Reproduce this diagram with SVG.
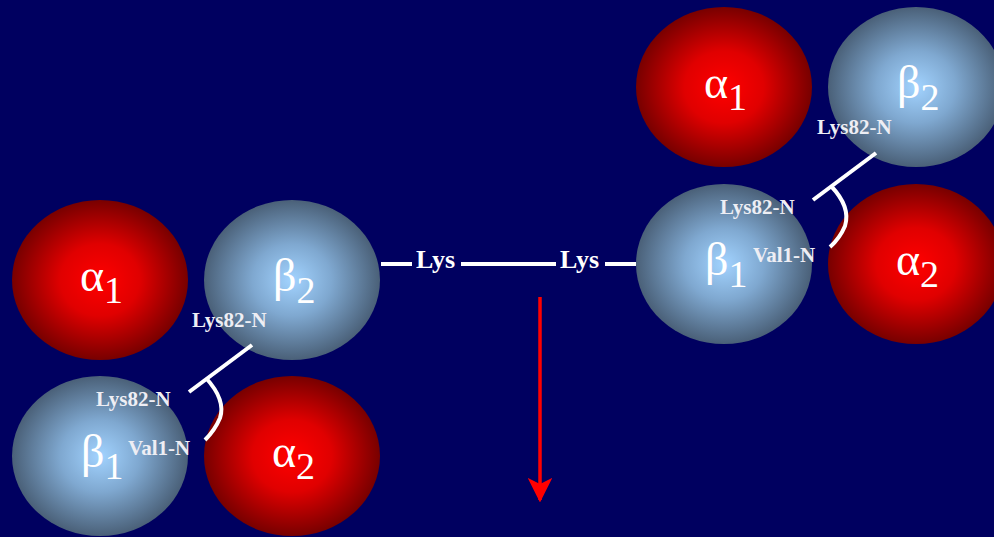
<svg xmlns="http://www.w3.org/2000/svg" width="994" height="537" viewBox="0 0 994 537">
<defs>
<radialGradient id="gr" cx="50%" cy="50%" r="50%">
<stop offset="0" stop-color="#ff0000"/><stop offset="0.45" stop-color="#e00000"/><stop offset="1" stop-color="#780000"/>
</radialGradient>
<radialGradient id="gb" cx="50%" cy="50%" r="50%">
<stop offset="0" stop-color="#a2d3ff"/><stop offset="0.45" stop-color="#7fa8d0"/><stop offset="1" stop-color="#4a6078"/>
</radialGradient>
<marker id="ah" viewBox="0 0 10 10" refX="9" refY="5" markerWidth="7" markerHeight="7" markerUnits="strokeWidth" orient="auto">
<path d="M0,0 L10,5 L0,10 L2.5,5 Z" fill="#ff0000"/>
</marker>
<style>
.r{fill:url(#gr)}
.b{fill:url(#gb)}
.g{font-family:"Liberation Serif","DejaVu Serif",serif;fill:#fff;font-size:46px}
.s{font-size:38px}
.l{font-family:"Liberation Serif","DejaVu Serif",serif;font-weight:bold;fill:#eeeef4;font-size:21px}
.k{font-family:"Liberation Serif","DejaVu Serif",serif;font-weight:bold;fill:#fff;font-size:26px}
.w{stroke:#fff;stroke-width:4;fill:none}
</style>
</defs>
<rect width="994" height="537" fill="#000060"/>
<g id="left-a1"><ellipse class="r" cx="100" cy="280" rx="88" ry="80"/><text class="g" x="80" y="291">α<tspan class="s" dy="12">1</tspan></text></g>
<g id="left-b2"><ellipse class="b" cx="292" cy="280" rx="88" ry="80"/><text class="g" x="273" y="291">β<tspan class="s" dy="12">2</tspan></text></g>
<g id="left-b1"><ellipse class="b" cx="100" cy="456" rx="88" ry="80"/><text class="g" x="81" y="467">β<tspan class="s" dy="12">1</tspan></text></g>
<g id="left-a2"><ellipse class="r" cx="292" cy="456" rx="88" ry="80"/><text class="g" x="272" y="467">α<tspan class="s" dy="12">2</tspan></text></g>
<g id="right-a1"><ellipse class="r" cx="724" cy="87" rx="88" ry="80"/><text class="g" x="704" y="98">α<tspan class="s" dy="12">1</tspan></text></g>
<g id="right-b2"><ellipse class="b" cx="916" cy="87" rx="88" ry="80"/><text class="g" x="897" y="98">β<tspan class="s" dy="12">2</tspan></text></g>
<g id="right-b1"><ellipse class="b" cx="724" cy="264" rx="88" ry="80"/><text class="g" x="705" y="275">β<tspan class="s" dy="12">1</tspan></text></g>
<g id="right-a2"><ellipse class="r" cx="916" cy="264" rx="88" ry="80"/><text class="g" x="896" y="275">α<tspan class="s" dy="12">2</tspan></text></g>
<g id="labels">
<text class="l" x="192" y="327">Lys82-N</text>
<text class="l" x="96" y="406">Lys82-N</text>
<text class="l" x="128" y="455">Val1-N</text>
<text class="l" x="817" y="134">Lys82-N</text>
<text class="l" x="720" y="214">Lys82-N</text>
<text class="l" x="753" y="262">Val1-N</text>
<text class="k" x="416" y="268">Lys</text>
<text class="k" x="560" y="268">Lys</text>
</g>
<g id="connectors">
<line class="w" x1="252" y1="345" x2="189" y2="392"/>
<path class="w" d="M206,378 Q226,400 220,418 Q215,430 205,440"/>
<line class="w" x1="876" y1="153" x2="813" y2="200"/>
<path class="w" d="M831,186 Q851,207 845,226 Q840,238 830,247"/>
<line class="w" x1="381" y1="264" x2="412" y2="264"/>
<line class="w" x1="461" y1="264" x2="556" y2="264"/>
<line class="w" x1="605" y1="264" x2="636" y2="264"/>
<line x1="540" y1="297" x2="540" y2="500" stroke="#ff0000" stroke-width="3.5" marker-end="url(#ah)"/>
</g>
</svg>
